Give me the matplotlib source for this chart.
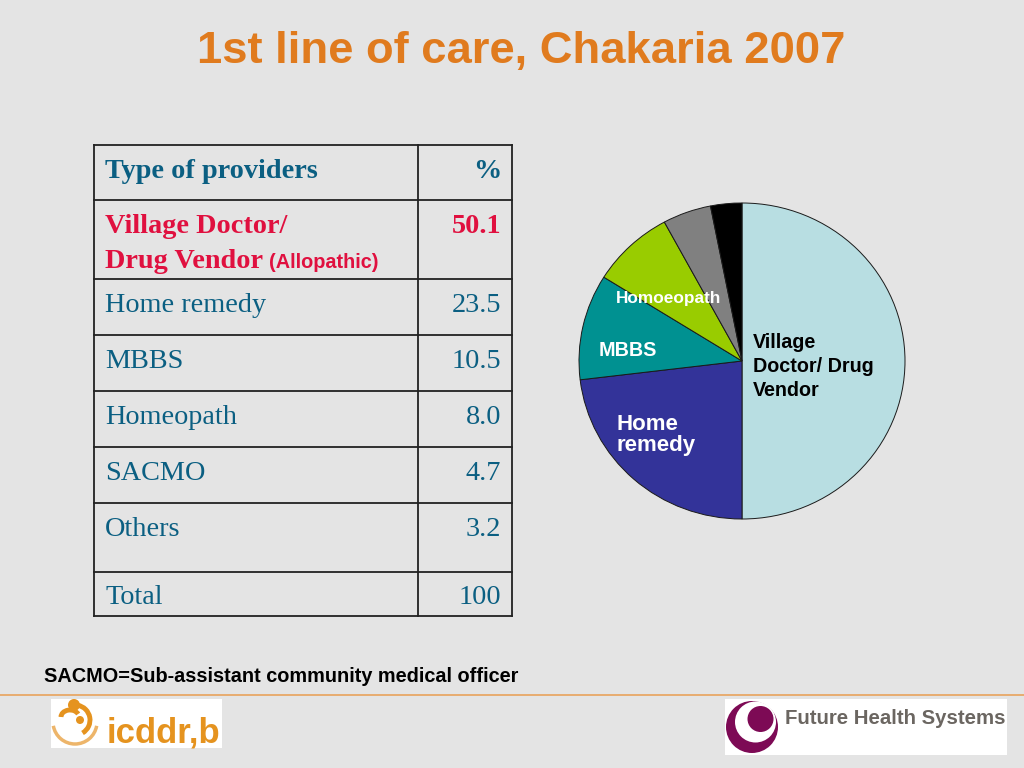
import matplotlib
matplotlib.use('Agg')
import matplotlib.pyplot as plt
import matplotlib.patches as mpatches

BG = '#E4E4E4'
BLUE = '#0B5F82'
RED = '#E0103F'
ORANGE = '#E07B1E'

# table data
header = ['Type of providers', '%']
providers = ['Home remedy', 'MBBS', 'Homeopath', 'SACMO', 'Others', 'Total']
percent_labels = ['23.5', '10.5', '8.0', '4.7', '3.2', '100']
# pie slices as drawn in the picture
pie_values = [50.0, 23.1, 10.8, 8.2, 4.8, 3.1]
pie_colors = ['#B8DEE2', '#333399', '#009191', '#99CC00', '#808080', '#000000']

# table rules in pixels
row_y = [145, 200, 279, 335, 391, 447, 503, 572, 616]
col_x = [94, 418, 512]

fig = plt.figure(figsize=(10.24, 7.68), dpi=100, facecolor=BG)

# pie is slightly squashed in the reference (326 wide, 316 high)
ax_pie = fig.add_axes([(742 - 163) / 1024, 1 - (361 + 158) / 768, 326 / 1024, 316 / 768])
ax_pie.pie(pie_values, colors=pie_colors, startangle=90, counterclock=False, radius=1,
           wedgeprops={'edgecolor': '#1a1a1a', 'linewidth': 0.7})
ax_pie.set_aspect('auto')
ax_pie.set_xlim(-1, 1)
ax_pie.set_ylim(-1, 1)
for w in ax_pie.patches:
    w.set_clip_on(False)

# everything else goes on an overlay in pixel coords
ax = fig.add_axes([0, 0, 1, 1], zorder=5)
ax.set_xlim(0, 1024)
ax.set_ylim(768, 0)
ax.axis('off')

ax.text(521, 51, '1st line of care, Chakaria 2007', fontsize=32.7, fontweight='bold',
        family='Liberation Sans', color=ORANGE, ha='center', va='center')

# table grid
for y in row_y:
    ax.plot([col_x[0], col_x[-1]], [y, y], color='#222222', lw=1.3, solid_capstyle='projecting')
for x in col_x:
    ax.plot([x, x], [row_y[0], row_y[-1]], color='#222222', lw=1.3, solid_capstyle='projecting')

serif = {'family': 'Liberation Serif', 'fontsize': 20.3}
ax.text(105, 178, header[0], color=BLUE, fontweight='bold', **serif)
ax.text(501, 178, header[1], color=BLUE, fontweight='bold', ha='right', **serif)

ax.text(105, 233, 'Village Doctor/', color=RED, fontweight='bold', **serif)
ax.text(105, 268, 'Drug Vendor', color=RED, fontweight='bold', **serif)
ax.text(269, 268, '(Allopathic)', color=RED, fontweight='bold', family='Liberation Sans', fontsize=14.3)
ax.text(501, 233, '50.1', color=RED, fontweight='bold', ha='right', **serif)

text_y = [312, 368, 424, 480, 536, 604]
for name, val, y in zip(providers, percent_labels, text_y):
    ax.text(105, y, name, color=BLUE, **serif)
    ax.text(501, y, val, color=BLUE, ha='right', **serif)

# pie labels
sans = {'family': 'Liberation Sans', 'fontweight': 'bold'}
ax.text(753, 348, 'Village', color='black', fontsize=14.2, **sans)
ax.text(753, 372, 'Doctor/ Drug', color='black', fontsize=14.2, **sans)
ax.text(753, 396, 'Vendor', color='black', fontsize=14.2, **sans)
ax.text(616, 430, 'Home', color='white', fontsize=16, **sans)
ax.text(616, 451, 'remedy', color='white', fontsize=16, **sans)
ax.text(599, 356, 'MBBS', color='white', fontsize=14.2, **sans)
ax.text(616, 303, 'Homoeopath', color='white', fontsize=12.4, **sans)

ax.text(44, 682, 'SACMO=Sub-assistant community medical officer', color='black',
        fontsize=14.3, **sans)

# footer rule
ax.plot([0, 1024], [695, 695], color='#E8A25C', lw=1.2)

# icddr,b logo
ax.add_patch(mpatches.Rectangle((51, 699), 171, 49, fc='white', ec='none'))
LOGO = '#E5931F'
ax.add_patch(mpatches.Arc((75, 722), 44, 44, theta1=10, theta2=170, color='#EDB56A', lw=2.5))
ax.add_patch(mpatches.Arc((75, 720), 30, 30, theta1=-80, theta2=60, color=LOGO, lw=3.5))
ax.add_patch(mpatches.Arc((70, 717), 18, 14, theta1=180, theta2=340, color=LOGO, lw=3.5))
ax.add_patch(mpatches.Circle((74, 705), 6, fc=LOGO, ec='none'))
ax.add_patch(mpatches.Circle((80, 720), 4, fc=LOGO, ec='none'))
ax.text(107, 742, 'icddr,b', color=LOGO, family='Liberation Sans', fontweight='bold', fontsize=25)

# Future Health Systems logo
ax.add_patch(mpatches.Rectangle((725, 699), 282, 56, fc='white', ec='none'))
PURPLE = '#7D0A55'
ax.add_patch(mpatches.Circle((752, 727), 26, fc=PURPLE, ec='none'))
ax.add_patch(mpatches.Circle((755.5, 722), 20.5, fc='white', ec='none'))
ax.add_patch(mpatches.Circle((760.5, 719), 13, fc=PURPLE, ec='none'))
ax.text(785, 724, 'Future Health Systems', color='#6B6661', family='Liberation Sans',
        fontweight='bold', fontsize=14.7)

fig.savefig('out.png', dpi=100, facecolor=BG)
